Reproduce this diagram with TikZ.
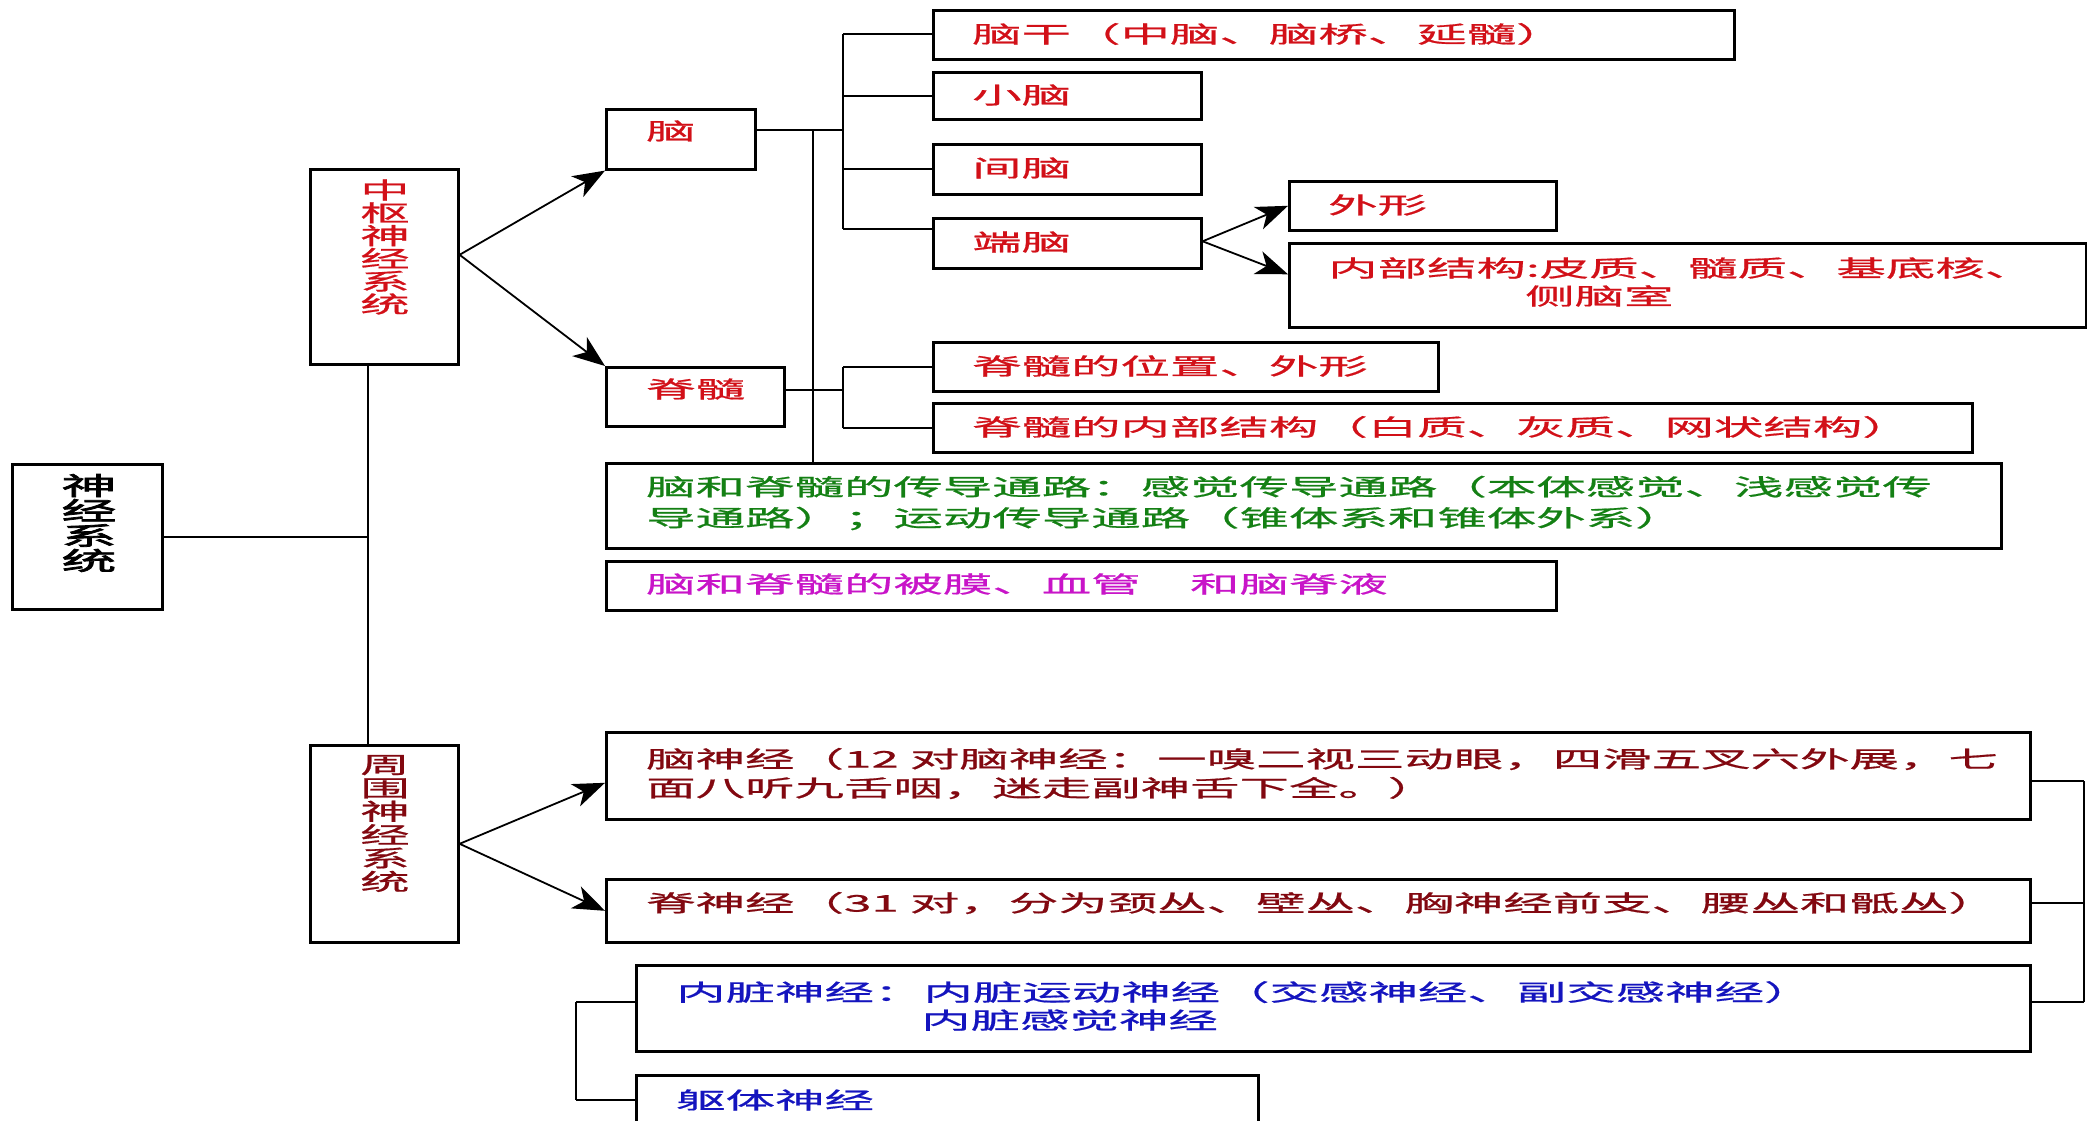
\documentclass[tikz,border=0pt]{standalone}
\usepackage{fontspec}
\newfontfamily\cjk[FakeStretch=2.15,FakeBold=0.8]{Noto Sans CJK SC}
\newfontfamily\cjkb[FakeStretch=2.2,FakeBold=3]{Noto Sans CJK SC}
\usetikzlibrary{arrows.meta}
\definecolor{tred}{RGB}{210,16,24}
\definecolor{tdred}{RGB}{130,8,16}
\definecolor{tgreen}{RGB}{20,128,20}
\definecolor{tmag}{RGB}{200,20,200}
\definecolor{tblue}{RGB}{20,20,190}
\begin{document}
\begin{tikzpicture}[x=1pt,y=-1pt,
 box/.style={draw=black, line width=2.6pt, inner sep=0pt, anchor=north west},
 lbl/.style={inner sep=0pt, anchor=west, align=left, font=\cjk\fontsize{23}{30}\selectfont},
 vlbl/.style={inner sep=0pt, align=center, font=\cjk\fontsize{23}{22.8}\selectfont},
 conn/.style={line width=2pt},
 arr/.style={line width=1.8pt, -{Stealth[length=32pt,width=24pt,inset=9pt]}}]
\useasboundingbox (0,0) rectangle (2087,1121);
\fill[white] (0,0) rectangle (2087,1121);
\begin{scope}
\clip (0,0) rectangle (2087,1121);
% boxes
\node[box, minimum width=150pt, minimum height=145pt] (root) at (11,463) {};
\node[box, minimum width=148pt, minimum height=195pt] (zs) at (309,168) {};
\node[box, minimum width=148pt, minimum height=197pt] (zw) at (309,744) {};
\node[box, minimum width=149pt, minimum height=60pt] (nao) at (605,108) {};
\node[box, minimum width=178pt, minimum height=59pt] (jisui) at (605,366) {};
\node[box, minimum width=801pt, minimum height=49pt] (ng) at (932,9) {};
\node[box, minimum width=268pt, minimum height=47pt] (xn) at (932,71) {};
\node[box, minimum width=268pt, minimum height=50pt] (jn) at (932,143) {};
\node[box, minimum width=268pt, minimum height=50pt] (dn) at (932,217) {};
\node[box, minimum width=267pt, minimum height=49pt] (wx) at (1288,180) {};
\node[box, minimum width=797pt, minimum height=84pt] (nb) at (1288,242) {};
\node[box, minimum width=505pt, minimum height=49pt] (jw) at (932,341) {};
\node[box, minimum width=1039pt, minimum height=49pt] (jn2) at (932,402) {};
\node[box, minimum width=1395pt, minimum height=85pt] (cd) at (605,462) {};
\node[box, minimum width=950pt, minimum height=49pt] (bm) at (605,560) {};
\node[box, minimum width=1424pt, minimum height=87pt] (nsj) at (605,731) {};
\node[box, minimum width=1424pt, minimum height=63pt] (jsj) at (605,878) {};
\node[box, minimum width=1394pt, minimum height=86pt] (nz) at (635,964) {};
\node[box, minimum width=622pt, minimum height=90pt] (qt) at (635,1074) {};
% texts
\node[vlbl, text=black, font=\cjkb\fontsize{25}{25}\selectfont] (troot) at (89,523) {神\\经\\系\\统};
\node[vlbl, text=tred] (tzs) at (385,247) {中\\枢\\神\\经\\系\\统};
\node[vlbl, text=tdred, font=\cjk\fontsize{23}{23.4}\selectfont] (tzw) at (385,823.5) {周\\围\\神\\经\\系\\统};
\node[lbl, text=tred] (tnao) at (646,131) {脑};
\node[lbl, text=tred] (tjs) at (646,389) {脊髓};
\node[lbl, text=tred] (tng) at (972,34) {脑干（中脑、脑桥、延髓）};
\node[lbl, text=tred] (txn) at (972,95) {小脑};
\node[lbl, text=tred] (tjn) at (972,168) {间脑};
\node[lbl, text=tred] (tdn) at (972,242) {端脑};
\node[lbl, text=tred] (twx) at (1328,205) {外形};
\node[lbl, text=tred, font=\cjk\fontsize{23}{28}\selectfont] (tnb) at (1328,282) {内部结构:皮质、髓质、基底核、\\\hspace*{197pt}侧脑室};
\node[lbl, text=tred] (tjw) at (972,366) {脊髓的位置、外形};
\node[lbl, text=tred] (tjn2) at (972,427) {脊髓的内部结构（白质、灰质、网状结构）};
\node[lbl, text=tgreen, font=\cjk\fontsize{23}{31}\selectfont] (tcd) at (646,503) {脑和脊髓的传导通路：感觉传导通路（本体感觉、浅感觉传\\导通路）；运动传导通路（锥体系和锥体外系）};
\node[lbl, text=tmag] (tbm) at (646,584) {脑和脊髓的被膜、血管　和脑脊液};
\node[lbl, text=tdred, font=\cjk\fontsize{23}{29}\selectfont] (tnsj) at (646,773.5) {脑神经（12 对脑神经：一嗅二视三动眼，四滑五叉六外展，七\\面八听九舌咽，迷走副神舌下全。）};
\node[lbl, text=tdred] (tjsj) at (646,903) {脊神经（31 对，分为颈丛、壁丛、胸神经前支、腰丛和骶丛）};
\node[lbl, text=tblue, font=\cjk\fontsize{23}{28}\selectfont] (tnz) at (676,1006) {内脏神经：内脏运动神经（交感神经、副交感神经）\\\hspace*{245pt}内脏感觉神经};
\node[lbl, text=tblue] (tqt) at (676,1100) {躯体神经};
% trunk
\coordinate (tk) at (368,535);
\draw[conn] (root.east) -- (root.east -| tk);
\draw[conn] (zs.south -| tk) -- (zw.north -| tk);
% arrows
\draw[arr] ([yshift=12pt]zs.east) -- (nao.south west);
\draw[arr] ([yshift=12pt]zs.east) -- (jisui.north west);
\draw[arr] (zw.east) -- ([yshift=-7pt]nsj.west);
\draw[arr] (zw.east) -- (jsj.west);
\draw[arr] ([yshift=2pt]dn.east) -- (wx.west);
\draw[arr] ([yshift=2pt]dn.east) -- ([yshift=11pt]nb.west);
% brain bracket
\coordinate (b1) at (843,130);
\coordinate (v1) at (813,130);
\draw[conn] (nao.east |- b1) -- (b1);
\draw[conn] (v1) -- (v1 |- cd.north);
\coordinate (bt) at (843,34);
\coordinate (bb) at (843,229);
\draw[conn] (bt) -- (bb);
\draw[conn] (bt) -- (bt -| ng.west);
\draw[conn] (xn.west -| bt) -- (xn.west);
\draw[conn] (jn.west -| bt) -- (jn.west);
\draw[conn] (bb) -- (bb -| dn.west);
% spinal bracket
\coordinate (s1) at (843,390);
\draw[conn] (jisui.east |- s1) -- (s1);
\draw[conn] (jw.west -| s1) -- (jw.west);
\draw[conn] (jn2.west -| s1) -- (jn2.west);
\draw[conn] (jw.west -| s1) -- (jn2.west -| s1);
% bottom bracket
\coordinate (q1) at (576,1002);
\coordinate (q2) at (576,1100);
\draw[conn] (q1) -- (q2);
\draw[conn] (q1) -- (q1 -| nz.west);
\draw[conn] (q2) -- (q2 -| qt.west);
% right side
\coordinate (r1) at (2084,781);
\coordinate (r2) at (2084,903);
\coordinate (r3) at (2084,1002);
\draw[conn, line width=2.6pt] (nsj.east |- r1) -- (r1);
\draw[conn] (jsj.east |- r2) -- (r2);
\draw[conn] (nz.east |- r3) -- (r3);
\draw[conn] (r1) -- (r3);
\end{scope}
\end{tikzpicture}
\end{document}
